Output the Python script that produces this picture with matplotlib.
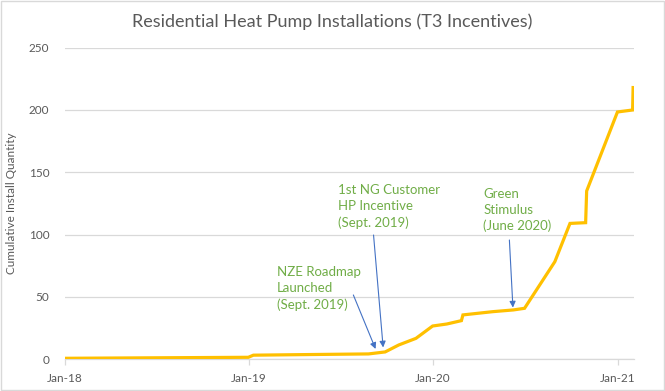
import matplotlib
matplotlib.use("Agg")
import matplotlib.pyplot as plt
import matplotlib.dates as mdates
import pandas as pd
from matplotlib.patches import Rectangle

plt.rcParams['font.family'] = ['Lato', 'DejaVu Sans']

# ---- data ----
dates = ["2018-01-01", "2018-04-01", "2018-07-01", "2018-10-01", "2018-12-31",
         "2019-01-10", "2019-04-30", "2019-08-26", "2019-09-28", "2019-10-25",
         "2019-11-28", "2019-12-31", "2020-01-28", "2020-02-26", "2020-02-29",
         "2020-04-28", "2020-06-08", "2020-06-30", "2020-08-29", "2020-09-28",
         "2020-10-29", "2020-10-31", "2020-12-31", "2021-01-30", "2021-01-31"]
values = [0.8, 1.0, 1.2, 1.4, 1.6,
          3.3, 3.8, 4.3, 5.9, 11.5,
          16.8, 26.7, 28.3, 31.0, 35.6,
          38.2, 39.6, 40.9, 78.3, 109.0,
          109.6, 135.0, 198.4, 200.0, 218.0]

tick_dates = ["2018-01-01", "2019-01-01", "2020-01-01", "2021-01-01"]
y_ticks = [0, 50, 100, 150, 200, 250]

title = "Residential Heat Pump Installations (T3 Incentives)"
ylabel = "Cumulative Install Quantity"

# annotations: text, text anchor (date, value), arrow tail, arrow tip
ann_texts = ["1st NG Customer\nHP Incentive\n(Sept. 2019)",
             "NZE Roadmap\nLaunched\n(Sept. 2019)",
             "Green\nStimulus\n(June 2020)"]
ann_text_pos = [("2019-06-27", 122.8), ("2019-02-25", 56.6), ("2020-04-09", 119.8)]
ann_tail = [("2019-09-05", 99.7), ("2019-07-27", 51.6), ("2020-05-31", 95.7)]
ann_tip = [("2019-09-24", 9.5), ("2019-09-09", 8.3), ("2020-06-07", 41.5)]

x = pd.to_datetime(dates)

fig = plt.figure(figsize=(6.65, 3.91), dpi=100)
ax = fig.add_axes([0.097, 0.0811, 0.8558, 0.797])

ax.plot(x, values, color="#FFC000", lw=2.3, solid_joinstyle="miter", zorder=3)

ax.set_ylim(0, 250)
ax.set_xlim(pd.Timestamp("2018-01-01"), pd.Timestamp("2021-02-01"))
ax.set_yticks(y_ticks)
ax.set_xticks(pd.to_datetime(tick_dates))
ax.xaxis.set_major_formatter(mdates.DateFormatter("%b-%y"))

ax.grid(axis="y", color="#D9D9D9", lw=0.9)
ax.set_axisbelow(True)
for s in ["top", "right", "left"]:
    ax.spines[s].set_visible(False)
ax.spines["bottom"].set_color("#D9D9D9")
ax.spines["bottom"].set_linewidth(0.9)
ax.tick_params(axis="y", length=0, pad=11, labelsize=8.5, labelcolor="#595959")
ax.tick_params(axis="x", length=4, width=0.9, color="#D9D9D9", pad=6,
               labelsize=8.5, labelcolor="#595959")

ax.set_ylabel(ylabel, fontsize=8.5, color="#595959", labelpad=8)
fig.text(0.5, 0.945, title, ha="center", va="center", fontsize=13, color="#595959")

for t, tp, tail, tip in zip(ann_texts, ann_text_pos, ann_tail, ann_tip):
    ax.text(pd.Timestamp(tp[0]), tp[1], t, ha="left", va="center",
            fontsize=9.5, color="#70AD47", linespacing=1.4)
    ax.annotate("", xy=(pd.Timestamp(tip[0]), tip[1]),
                xytext=(pd.Timestamp(tail[0]), tail[1]),
                arrowprops=dict(arrowstyle="-|>", color="#4472C4", lw=0.8,
                                mutation_scale=9, shrinkA=0, shrinkB=0))

fig.patches.append(Rectangle((0.002, 0.003), 0.996, 0.994, transform=fig.transFigure,
                             fill=False, edgecolor="#D9D9D9", lw=1))

fig.savefig("out.png", dpi=100)
